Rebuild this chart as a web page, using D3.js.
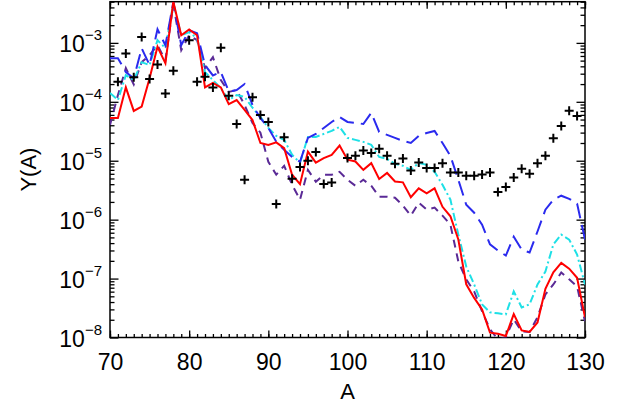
<!DOCTYPE html>
<html>
<head>
<meta charset="utf-8">
<script src="https://cdn.jsdelivr.net/npm/d3@7"></script>
<style>
  body { margin: 0; background: #fff; }
  text { font-family: "Liberation Sans", Arial, sans-serif; }
</style>
</head>
<body>
<script>
const massNumbers = [70, 71, 72, 73, 74, 75, 76, 77, 78, 79, 80, 81, 82, 83, 84, 85, 86, 87, 88, 89,
  90, 91, 92, 93, 94, 95, 96, 97, 98, 99, 100, 101, 102, 103, 104, 105, 106, 107, 108, 109,
  110, 111, 112, 113, 114, 115, 116, 117, 118, 119, 120, 121, 122, 123, 124, 125, 126, 127, 128, 129, 130];

const yRed = [5.3e-5, 5.3e-5, 1.76e-4, 7.0e-5, 8.3e-5, 2.5e-4, 8.6e-4, 4.5e-4, 5.0e-3, 1.35e-3,
  1.69e-3, 1.35e-3, 1.76e-4, 2.1e-4, 1.76e-4, 9.1e-5, 1.07e-4, 7.3e-5, 4.9e-5, 2.0e-5,
  1.85e-5, 2.05e-5, 1.63e-5, 5.8e-6, 4.0e-6, 1.43e-5, 9.3e-6, 1.11e-5, 1.26e-5, 1.81e-5,
  1.04e-5, 9.7e-6, 7.0e-6, 9.1e-6, 4.9e-6, 6.2e-6, 4.45e-6, 4.3e-6, 2.4e-6, 3.4e-6,
  2.8e-6, 3.4e-6, 1.65e-6, 1.14e-6, 4.6e-7, 8.0e-8, 4.7e-8, 3.0e-8, 1.21e-8, 1.16e-8,
  1.06e-8, 2.5e-8, 1.32e-8, 1.24e-8, 1.8e-8, 6.7e-8, 1.28e-7, 1.85e-7, 1.47e-7, 1.03e-7, 2.2e-8];

const yCyan = [1.41e-4, 1.07e-4, 2.84e-4, 2.34e-4, 4.71e-4, 4.2e-4, 1.11e-3, 8.13e-4, 4.7e-3, 1.35e-3,
  1.52e-3, 1.2e-3, 3.19e-4, 2.34e-4, 1.71e-4, 1.07e-4, 1.3e-4, 1.21e-4, 7.93e-5, 5.53e-5,
  3.61e-5, 2.64e-5, 2.26e-5, 1.26e-5, 9.2e-6, 2.54e-5, 2.54e-5, 2.85e-5, 3.21e-5, 3.75e-5,
  2.44e-5, 2.26e-5, 2.09e-5, 1.86e-5, 1.16e-5, 1.07e-5, 8.87e-6, 8.2e-6, 7.0e-6, 9.2e-6,
  8.53e-6, 6.49e-6, 3.91e-6, 2.18e-6, 5.57e-7, 1.6e-7, 7.94e-8, 3.65e-8, 2.67e-8, 2.57e-8,
  2.47e-8, 6.05e-8, 3.24e-8, 3.65e-8, 7.94e-8, 1.32e-7, 3.78e-7, 5.57e-7, 4.59e-7, 2.56e-7, 7.94e-8];

const yBlue = [5.5e-4, 5.5e-4, 3.2e-4, 2.5e-4, 8.1e-4, 4.2e-4, 1.7e-3, 9.1e-4, 4.9e-3, 9.1e-4,
  1.64e-3, 1.46e-3, 4.2e-4, 2.8e-4, 3.2e-4, 1.5e-4, 1.58e-4, 2.0e-4, 8.8e-5, 5.3e-5,
  3.6e-5, 2.1e-5, 1.53e-5, 1.16e-5, 9.6e-6, 2.44e-5, 2.85e-5, 3.6e-5, 4.55e-5, 5.5e-5,
  4.55e-5, 4.4e-5, 4.2e-5, 6.5e-5, 3.08e-5, 2.74e-5, 2.44e-5, 2.17e-5, 2.0e-5, 2.64e-5,
  2.96e-5, 3.2e-5, 2.0e-5, 1.21e-5, 4.75e-6, 1.79e-6, 1.31e-6, 8.2e-7, 3.8e-7, 3.0e-7,
  2.46e-7, 5.15e-7, 3.1e-7, 2.77e-7, 6.3e-7, 1.48e-6, 2.18e-6, 2.55e-6, 2.26e-6, 1.87e-6, 4.6e-7];

const yPurple = [4.05e-5, 1.3e-4, 3.73e-4, 1.97e-4, 4.71e-4, 6.19e-4, 9.1e-4, 5.1e-4, 4.52e-3, 7.52e-4,
  1.35e-3, 1.11e-3, 3.73e-4, 5.73e-4, 2.34e-4, 1.47e-4, 1.58e-4, 8.8e-5, 4.38e-5, 3.0e-5,
  9.6e-6, 5.8e-6, 8.2e-6, 3.91e-6, 2.18e-6, 7.01e-6, 4.4e-6, 5.77e-6, 5.77e-6, 6.49e-6,
  4.75e-6, 3.76e-6, 4.75e-6, 3.76e-6, 2.45e-6, 2.45e-6, 2.36e-6, 1.73e-6, 1.17e-6, 1.94e-6,
  1.48e-6, 1.6e-6, 1.17e-6, 8.2e-7, 1.95e-7, 9.7e-8, 6.05e-8, 2.77e-8, 1.38e-8, 9.3e-9,
  1.01e-8, 2.03e-8, 1.27e-8, 1.24e-8, 2.2e-8, 5.38e-8, 7.94e-8, 1.27e-7, 9.7e-8, 7.35e-8, 1.88e-8];

// measured points (crosses)
const crossA = [71, 72, 73, 74, 75, 76, 77, 78, 80, 81, 82, 83, 84, 85, 86, 87, 88, 89, 90,
  91, 92, 93, 94, 95, 96, 97, 98, 100, 101, 102, 103, 104, 105, 106, 107, 108, 109,
  110, 111, 112, 113, 114, 115, 116, 117, 118, 119, 120, 121, 122, 123, 124, 125, 126, 127, 128, 129];
const crossY = [2.19e-4, 6.62e-4, 2.6e-4, 1.26e-3, 2.43e-4, 4.31e-4, 1.39e-4, 3.36e-4, 1.11e-3, 2.19e-4,
  2.66e-4, 1.75e-4, 8.29e-4, 1.27e-4, 4.21e-5, 4.75e-6, 1.2e-4, 5.98e-5, 4.55e-5,
  1.85e-6, 2.51e-5, 4.94e-6, 7.8e-6, 9.95e-6, 1.4e-5, 4.02e-6, 4.28e-6, 1.11e-5, 1.21e-5,
  1.49e-5, 1.35e-5, 1.59e-5, 1.21e-5, 8.87e-6, 1.09e-5, 6.82e-6, 9.33e-6,
  7.5e-6, 7.5e-6, 9.1e-6, 6.31e-6, 6.31e-6, 5.55e-6, 5.55e-6, 5.85e-6, 6.31e-6, 2.94e-6,
  3.57e-6, 5.2e-6, 7.3e-6, 6.0e-6, 9.1e-6, 1.22e-5, 2.41e-5, 3.9e-5, 7.06e-5, 5.75e-5];

const xTicks = [70, 80, 90, 100, 110, 120, 130];
const xMinorTicks = d3.range(70, 131, 1);
const yTickExponents = [-3, -4, -5, -6, -7, -8];

const width = 633, height = 406;
const plotLeft = 110, plotRight = 585, plotTop = 1.7, plotBottom = 337.5;

const x = d3.scaleLinear().domain([70, 130]).range([plotLeft, plotRight]);
const y = d3.scaleLog().domain([1e-8, 5e-3]).range([plotBottom, plotTop]);

const yMinor = [];
for (let e = -8; e <= -3; e++) {
  for (let m = 2; m <= 9; m++) {
    const v = m * Math.pow(10, e);
    if (v <= 5e-3) yMinor.push(v);
  }
}

const svg = d3.select('body').append('svg')
  .attr('width', width)
  .attr('height', height);

svg.append('defs').append('clipPath').attr('id', 'plot-clip')
  .append('rect')
  .attr('x', plotLeft).attr('y', plotTop)
  .attr('width', plotRight - plotLeft).attr('height', plotBottom - plotTop);

// axes: ticks pointing inwards on all four sides
function styleAxis(g) {
  g.select('.domain').remove();
  g.selectAll('line').attr('stroke', '#000').attr('stroke-width', 1.3);
}

svg.append('g').attr('transform', `translate(0,${plotBottom})`)
  .call(d3.axisBottom(x).tickValues(xMinorTicks).tickSize(-3.5).tickFormat(''))
  .call(styleAxis);
svg.append('g').attr('transform', `translate(0,${plotTop})`)
  .call(d3.axisTop(x).tickValues(xMinorTicks).tickSize(-3.5).tickFormat(''))
  .call(styleAxis);
svg.append('g').attr('transform', `translate(0,${plotBottom})`)
  .call(d3.axisBottom(x).tickValues(xTicks).tickSize(-7).tickPadding(16).tickFormat(d3.format('d')))
  .call(styleAxis)
  .call(g => g.selectAll('text').attr('font-size', 23).attr('fill', '#000')
    .attr('font-family', '"Liberation Sans", Arial, sans-serif'));
svg.append('g').attr('transform', `translate(0,${plotTop})`)
  .call(d3.axisTop(x).tickValues(xTicks).tickSize(-7).tickFormat(''))
  .call(styleAxis);

svg.append('g').attr('transform', `translate(${plotLeft},0)`)
  .call(d3.axisLeft(y).tickValues(yMinor).tickSize(-4.5).tickFormat(''))
  .call(styleAxis);
svg.append('g').attr('transform', `translate(${plotRight},0)`)
  .call(d3.axisRight(y).tickValues(yMinor).tickSize(-4.5).tickFormat(''))
  .call(styleAxis);
const yMajor = yTickExponents.map(e => Math.pow(10, e));
svg.append('g').attr('transform', `translate(${plotLeft},0)`)
  .call(d3.axisLeft(y).tickValues(yMajor).tickSize(-8.5).tickFormat(''))
  .call(styleAxis);
svg.append('g').attr('transform', `translate(${plotRight},0)`)
  .call(d3.axisRight(y).tickValues(yMajor).tickSize(-8.5).tickFormat(''))
  .call(styleAxis);

// y tick labels 10^-n
const yLab = svg.append('g').selectAll('text')
  .data(yTickExponents)
  .enter().append('text')
  .attr('x', plotLeft - 8)
  .attr('y', d => y(Math.pow(10, d)) + 9.5)
  .attr('text-anchor', 'end')
  .attr('font-size', 23);
yLab.append('tspan').text('10');
yLab.append('tspan').attr('dy', -12).attr('font-size', 15).text(d => '\u2212' + Math.abs(d));

// frame
svg.append('rect')
  .attr('x', plotLeft).attr('y', plotTop)
  .attr('width', plotRight - plotLeft).attr('height', plotBottom - plotTop)
  .attr('fill', 'none').attr('stroke', '#000').attr('stroke-width', 1.5);

// titles
svg.append('text')
  .attr('x', (plotLeft + plotRight) / 2).attr('y', 399)
  .attr('text-anchor', 'middle').attr('font-size', 22)
  .text('A');
svg.append('text')
  .attr('transform', `translate(36,${(plotTop + plotBottom) / 2}) rotate(-90)`)
  .attr('text-anchor', 'middle').attr('font-size', 22)
  .text('Y(A)');

// curves
const line = d3.line()
  .x((d, i) => x(massNumbers[i]))
  .y(d => y(d));

const plot = svg.append('g').attr('clip-path', 'url(#plot-clip)');

const series = [
  { values: yPurple, color: '#5a2a96', dash: '8,6' },
  { values: yCyan, color: '#1ee0e6', dash: '8,3,2,3' },
  { values: yBlue, color: '#2a2aee', dash: '15,7' },
  { values: yRed, color: '#ff0000', dash: null }
];

plot.selectAll('.curve')
  .data(series)
  .enter()
  .append('path')
  .attr('class', 'curve')
  .attr('d', d => line(d.values))
  .attr('fill', 'none')
  .attr('stroke', d => d.color)
  .attr('stroke-width', 2)
  .attr('stroke-dasharray', d => d.dash);

plot.selectAll('.cross')
  .data(crossA)
  .enter()
  .append('path')
  .attr('class', 'cross')
  .attr('transform', (d, i) => `translate(${x(d)},${y(crossY[i])})`)
  .attr('d', 'M-4.5,0H4.5M0,-4.5V4.5')
  .attr('stroke', '#000')
  .attr('stroke-width', 2);
</script>
</body>
</html>
